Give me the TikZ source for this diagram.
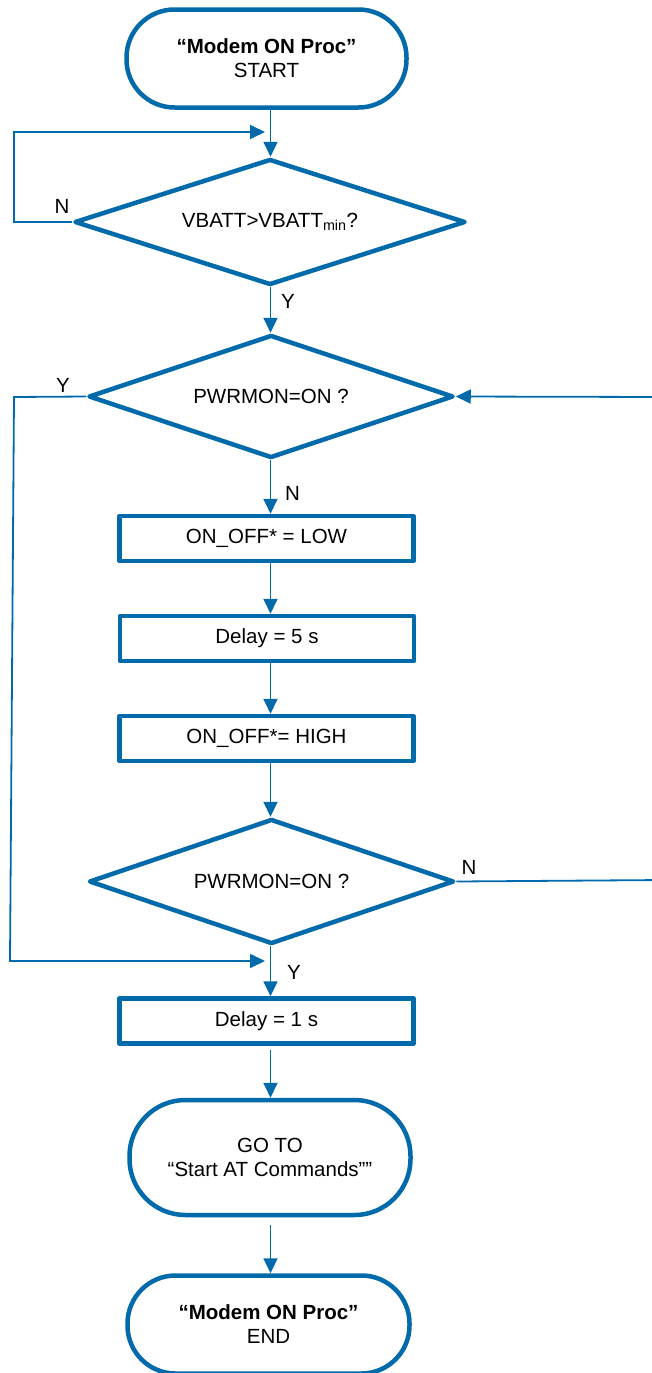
\documentclass[tikz,border=0pt]{standalone}
\usepackage{fontspec}
\setmainfont{Liberation Sans}
\usetikzlibrary{arrows.meta,shapes.geometric}
\definecolor{fcblue}{RGB}{0,106,170}
\begin{document}
\begin{tikzpicture}[x=1pt,y=-1pt,
  txt/.style={font=\fontsize{20.5}{24}\selectfont,text=black},
  shapeline/.style={draw=fcblue,line width=4.5pt,line join=round,inner sep=0pt,align=center,fill=white,txt},
  term/.style={shapeline,rectangle,rounded corners=48pt},
  procbox/.style={shapeline,rectangle,minimum width=294pt,minimum height=45pt},
  decision/.style={shapeline,diamond,aspect=3.1},
  conn/.style={draw=fcblue,line width=1.8pt,-{Triangle[length=15pt,width=14pt]}},
  lbl/.style={txt,inner sep=0pt}
]
\useasboundingbox (0,0) rectangle (651,1373);
\coordinate (tx) at (270.5,0);

% nodes
\node[term,minimum width=280pt,minimum height=98pt] (start) at (266.5,58.5) {\textbf{“Modem ON Proc”}\\START};
\node[decision,minimum width=391pt,minimum height=126pt] (d1) at (270,222) {VBATT>VBATT\textsubscript{min}?};
\node[decision,minimum width=365pt,minimum height=123pt] (d2) at (271,396.5) {PWRMON=ON ?};
\node[procbox] (b1) at (266.5,538.5) {ON\_OFF* = LOW};
\node[procbox] (b2) at (267,638.5) {Delay = 5 s};
\node[procbox] (b3) at (266.5,738.5) {ON\_OFF*= HIGH};
\node[decision,minimum width=365pt,minimum height=125pt] (d3) at (271.5,881.5) {PWRMON=ON ?};
\node[procbox] (b4) at (266.5,1021) {Delay = 1 s};
\node[term,rounded corners=56pt,minimum width=281pt,minimum height=115pt] (goto) at (270,1157.5) {GO TO\\“Start AT Commands””};
\node[term,minimum width=282pt,minimum height=98pt] (end) at (268.5,1324.5) {\textbf{“Modem ON Proc”}\\END};

% labels
\node[lbl] (ln1) at (62,206) {N};
\node[lbl] (ly1) at (288,301) {Y};
\node[lbl] (ly2) at (63,385) {Y};
\node[lbl] (ln2) at (292.5,493) {N};
\node[lbl] (ln3) at (469,867) {N};
\node[lbl] (ly3) at (294,972) {Y};

% junction coordinates
\coordinate (j1) at (265,132);
\coordinate (j2) at (265,961);
\coordinate (lt1) at (14,222);
\coordinate (lt2) at (14,132);
\coordinate (lt3) at (14,397);
\coordinate (lt4) at (10,961);
\coordinate (rt1) at (664,880);
\coordinate (rt2) at (664,397);

% trunk connectors
\draw[conn] (start.south -| tx) -- (d1.north -| tx);
\draw[conn] (d1.south -| tx) -- (d2.north -| tx);
\draw[conn] (d2.south -| tx) -- (b1.north -| tx);
\draw[conn] (b1.south -| tx) -- (b2.north -| tx);
\draw[conn] (b2.south -| tx) -- (b3.north -| tx);
\draw[conn] (b3.south -| tx) -- (d3.north -| tx);
\draw[conn] (d3.south -| tx) -- (b4.north -| tx);
\draw[conn,shorten <=4pt] (b4.south -| tx) -- (goto.north -| tx);
\draw[conn,shorten <=8pt] (goto.south -| tx) -- (end.north -| tx);

% loops
\draw[conn] (d1.west) -- (lt1) -- (lt2) -- (j1);
\draw[conn] (d2.west) -- (lt3) -- (lt4) -- (j2);
\draw[conn] (d3.east) -- (rt1) -- (rt2) -- (d2.east);
\end{tikzpicture}
\end{document}
